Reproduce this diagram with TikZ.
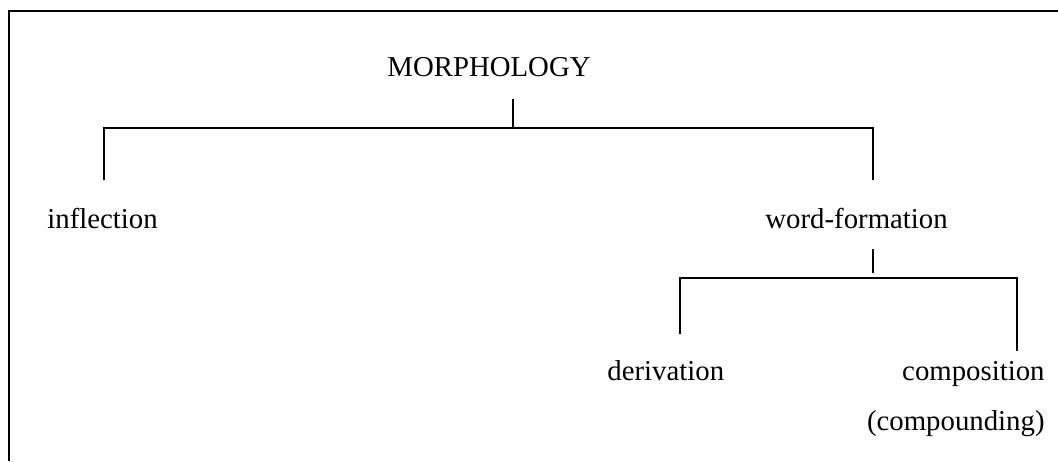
\documentclass[tikz,border=0pt]{standalone}
\usepackage{fontspec}
\setmainfont{Liberation Serif}
\usetikzlibrary{positioning}

\tikzset{
    label/.style={inner sep=0pt, font=\fontsize{14.4}{17}\selectfont},
    branch/.style={line width=0.9pt, black},
    frame/.style={line width=1.2pt, black}
}

\begin{document}
\begin{tikzpicture}[x=0.5pt, y=-0.5pt]
    \useasboundingbox (0,0) rectangle (1058,461);

    % open frame (top and left only)
    \coordinate (fr-bl) at (9,461);
    \coordinate (fr-tl) at (9,11);
    \coordinate (fr-tr) at (1058,11);
    \draw[frame] (fr-bl) -- (fr-tl) -- (fr-tr);

    % words
    \node[label, anchor=base west] (morph) at (387,76) {MORPHOLOGY};
    \node[label, anchor=base west] (infl) at (47,228) {inflection};
    \node[label, anchor=base west] (wordform) at (765,228) {word-formation};
    \node[label, anchor=base west] (deriv) at (607,380) {derivation};
    \node[label, anchor=base east] (compos) at (1045,380) {composition};
    \node[label, anchor=base east] (compound) at (1045,430) {(compounding)};

    % first split
    \coordinate (morph-stem) at (513,99);
    \coordinate (morph-bar) at (513,128);
    \coordinate (infl-top) at (104,180);
    \coordinate (infl-bar) at (104,128);
    \coordinate (wf-top) at (873,180);
    \coordinate (wf-bar) at (873,128);
    \draw[branch] (morph-stem) -- (morph-bar);
    \draw[branch] (infl-top) -- (infl-bar) -- (wf-bar) -- (wf-top);

    % second split
    \coordinate (wf-stem) at (873,249);
    \coordinate (wf-stemend) at (873,273);
    \coordinate (deriv-top) at (680,334);
    \coordinate (deriv-bar) at (680,278);
    \coordinate (compos-top) at (1017,351);
    \coordinate (compos-bar) at (1017,278);
    \draw[branch] (wf-stem) -- (wf-stemend);
    \draw[branch] (deriv-top) -- (deriv-bar) -- (compos-bar) -- (compos-top);
\end{tikzpicture}
\end{document}
